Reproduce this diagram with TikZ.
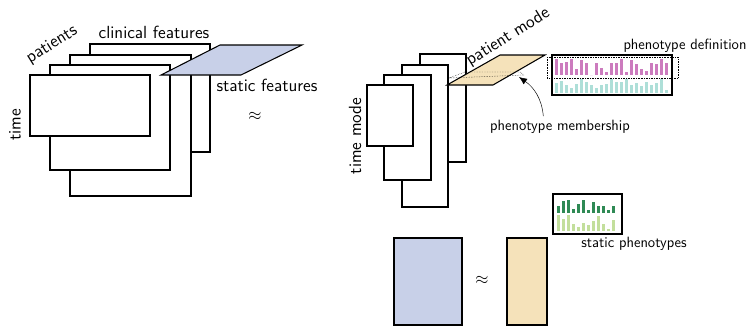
\documentclass[tikz,border=0pt]{standalone}
\usepackage{amsmath}
\usepackage{amssymb}
\usepackage{tikz}
\usetikzlibrary{arrows.meta}
\definecolor{staticblue}{HTML}{C8D0E8}
\definecolor{patienttan}{HTML}{F5E2BA}
\definecolor{phenopink}{HTML}{CC7BBE}
\definecolor{phenoteal}{HTML}{AEDFD8}
\definecolor{statdark}{HTML}{2F8A55}
\definecolor{statlight}{HTML}{C3DF9C}

\begin{document}
\begin{tikzpicture}[x=0.03cm,y=-0.03cm,
  slab/.style={draw,fill=white,line width=0.9pt},
  big/.style={font=\sffamily\fontsize{15}{18}\selectfont},
  small/.style={font=\sffamily\fontsize{12.7}{15}\selectfont}]
\useasboundingbox (0,0) rectangle (749,326);
\draw[slab] (90,44) rectangle (210,152);
\draw[slab] (70,55) rectangle (191,196);
\draw[slab] (50,65) rectangle (170,170);
\draw[slab] (30,75) rectangle (150,136);
\draw[slab,fill=staticblue] (161,75) -- (220,45) -- (302,45) -- (241,75) -- cycle;
\node[big,rotate=32] (patients) at (52,45) {patients};
\node[big] (clinical) at (154,32) {clinical features};
\node[big] (static) at (267,85) {static features};
\node[big] (approxtop) at (255,116) {$\approx$};
\node[big,rotate=90] (time) at (15,125) {time};
\draw[slab] (420,54) rectangle (466,162);
\draw[slab] (402,65) rectangle (448,207);
\draw[slab] (384,75) rectangle (431,180);
\draw[slab] (367,85) rectangle (413,146);
\draw[slab,fill=patienttan] (447,85) -- (500,55) -- (545,55) -- (493,85) -- cycle;
\draw[densely dotted,thin] (449,78) -- (465,72) -- (520,72) -- (524,75) -- cycle;
\node[big,rotate=32] (pmode) at (508,37) {patient mode};
\node[big,rotate=90] (tmode) at (355,136) {time mode};
\node[small] (member) at (560,127) {phenotype membership};
\coordinate (fiber) at (519,77);
\draw[-{Latex[length=2.4mm,width=2mm]}] ([xshift=-0.5cm]member.north) to[out=95,in=-35] (fiber);
\node[small] (defn) at (685,46) {phenotype definition};
\foreach \h [count=\i from 0] in {16,12,13,16,6,15,12,0,12,7,3,12,12,16,3,15,11,6,4,12,11,16,12}
  \fill[phenopink] ({555+5*\i},75) rectangle ++(2.7,-\h);
\foreach \h [count=\i from 0] in {10,12,8,5,9,14,11,8,5,8,9,14,11,11,14,8,10,7,11,8,10,14,3}
  \fill[phenoteal] ({555+5*\i},93) rectangle ++(2.7,-\h);
\draw[line width=0.9pt] (552,55) rectangle (672,95);
\draw[densely dotted,thin] (547,57) rectangle (678,78);
\foreach \h [count=\i from 0] in {7,12,13,4,9,13,3,11,7,7,3,7}
  \fill[statdark] ({557+5*\i},213) rectangle ++(2.7,-\h);
\foreach \h [count=\i from 0] in {16,12,16,7,4,8,6,10,15,7,2,11}
  \fill[statlight] ({557+5*\i},231) rectangle ++(2.7,-\h);
\draw[line width=0.9pt] (553,194) rectangle (622,234);
\node[small] (statpheno) at (634,244) {static phenotypes};
\draw[slab,fill=staticblue] (394,238) rectangle (462,325);
\draw[slab,fill=patienttan] (507,238) rectangle (547,325);
\node[big] (approxbot) at (482,280) {$\approx$};
\end{tikzpicture}
\end{document}
